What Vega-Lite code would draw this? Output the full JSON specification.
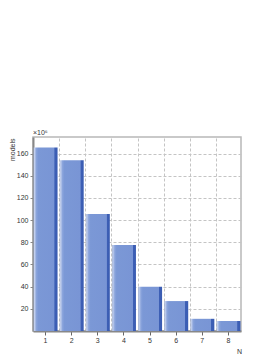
{
  "$schema": "https://vega.github.io/schema/vega-lite/v6.json",
  "width": 208,
  "height": 194,
  "autosize": {"type": "none"},
  "padding": {"left": 33, "top": 137, "right": 33, "bottom": 24},
  "background": "white",
  "config": {
    "font": "Liberation Sans",
    "view": {"stroke": "#b8b8b8", "strokeWidth": 1.5},
    "axis": {"labelFont": "Liberation Sans", "titleFont": "Liberation Sans", "labelFontSize": 7, "titleFontSize": 7, "labelColor": "#333", "titleColor": "#333", "titleFontWeight": "normal", "labelOverlap": false}
  },
  "title": {"text": "×10⁶", "anchor": "start", "frame": "group", "fontSize": 7, "fontWeight": "normal", "color": "#333", "offset": 1, "font": "Liberation Sans"},
  "data": {
    "values": [
      {"N": "1", "models": 165.5},
      {"N": "2", "models": 154},
      {"N": "3", "models": 105.5},
      {"N": "4", "models": 77.5},
      {"N": "5", "models": 40},
      {"N": "6", "models": 27},
      {"N": "7", "models": 11},
      {"N": "8", "models": 9}
    ]
  },
  "encoding": {
    "y": {"field": "models", "type": "quantitative", "scale": {"domain": [0, 175], "nice": false, "zero": true},
      "axis": {"orient": "left", "values": [20, 40, 60, 80, 100, 120, 140, 160], "labelOverlap": false, "grid": true, "gridColor": "#c4c4c4", "gridDash": [3, 2], "domain": true, "domainColor": "#888", "domainWidth": 2, "tickColor": "#888", "tickSize": 3, "labelPadding": 2,
        "title": "models", "titleAnchor": "end", "titleAngle": -90, "titleAlign": "right", "titleX": -19, "titleY": 1, "titleBaseline": "alphabetic"}}
  },
  "layer": [
    {
      "mark": {"type": "bar", "opacity": 0},
      "encoding": {
        "x": {"field": "N", "type": "ordinal", "scale": {"paddingInner": 0.08, "paddingOuter": 0.02},
          "axis": {"orient": "top", "grid": true, "bandPosition": 0, "labels": false, "ticks": false, "domain": false, "title": null, "gridColor": "#c4c4c4", "gridDash": [3, 2], "gridWidth": 1}}
      }
    },
    {
      "mark": {"type": "bar", "color": {"gradient": "linear", "x1": 0, "x2": 1, "y1": 0, "y2": 0,
        "stops": [
          {"offset": 0, "color": "#9aa8c4"},
          {"offset": 0.04, "color": "#c3d0ee"},
          {"offset": 0.12, "color": "#8aa4dc"},
          {"offset": 0.2, "color": "#7b98d6"},
          {"offset": 0.86, "color": "#7995d5"},
          {"offset": 0.88, "color": "#3d5fb5"},
          {"offset": 1, "color": "#3a5cb2"}
        ]}},
      "encoding": {
        "x": {"field": "N", "type": "ordinal",
          "axis": {"orient": "bottom", "grid": false, "labelAngle": 0, "domain": true, "domainColor": "#888", "domainWidth": 2, "tickColor": "#666", "tickSize": 4, "labelPadding": 1,
            "title": "N", "titleAnchor": "end", "titleAlign": "center", "titleX": 206, "titleY": 16}}
      }
    }
  ],
  "resolve": {"axis": {"x": "independent"}}
}
